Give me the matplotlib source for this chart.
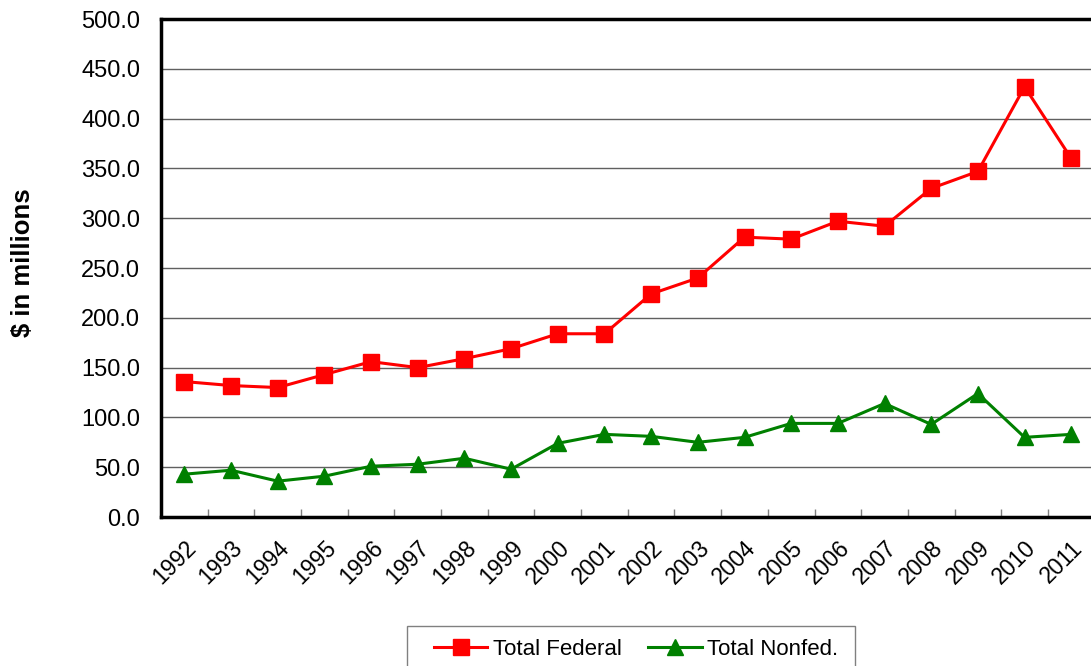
import matplotlib.pyplot as plt
import matplotlib.transforms as mtransforms
from matplotlib.patches import Rectangle

plt.rcParams['font.family'] = ['Liberation Sans', 'DejaVu Sans']

# Datos
years = [str(y) for y in range(1992, 2012)]
total_federal = [136, 132, 130, 143, 156, 150, 159, 169, 184, 184,
                 224, 240, 281, 279, 297, 292, 330, 347, 432, 360]
total_nonfed = [43, 47, 36, 41, 51, 53, 59, 48, 74, 83,
                81, 75, 80, 94, 94, 114, 93, 124, 80, 83]
y_ticks = [0, 50, 100, 150, 200, 250, 300, 350, 400, 450, 500]

fig = plt.figure(figsize=(10.91, 6.66), dpi=100)
ax = fig.add_axes([0.1476, 0.2237, 0.8557, 0.7477])

x = list(range(len(years)))
ax.plot(x, total_federal, color='#FF0000', lw=2.2, marker='s', markersize=11,
        label='Total Federal', zorder=3)
ax.plot(x, total_nonfed, color='#008000', lw=2.2, marker='^', markersize=12,
        label='Total Nonfed.', zorder=3)

ax.set_xlim(-0.5, len(years) - 0.5)
ax.set_ylim(0, 500)
ax.set_yticks(y_ticks)
ax.set_yticklabels([f'{v:.1f}' for v in y_ticks], fontsize=17)
ax.yaxis.grid(True, color='#606060', lw=1)
ax.set_axisbelow(True)

ax.set_xticks(x)
ax.set_xticklabels(years, fontsize=16.5, rotation=45, ha='right',
                   rotation_mode='anchor')
# mover un poco las etiquetas a la izquierda
offset = mtransforms.ScaledTranslation(-6 / 100, 0, fig.dpi_scale_trans)
for lbl in ax.get_xticklabels():
    lbl.set_transform(lbl.get_transform() + offset)
ax.set_xticks([i + 0.5 for i in x[:-1]], minor=True)
ax.tick_params(axis='x', which='major', length=0, pad=14)
ax.tick_params(axis='x', which='minor', direction='in', length=6,
               color='#808080', width=1)
ax.tick_params(axis='y', which='major', length=0, pad=15)

for side in ['left', 'bottom', 'top']:
    ax.spines[side].set_linewidth(2.5)
    ax.spines[side].set_color('black')
ax.spines['right'].set_visible(False)

ax.set_ylabel('$ in millions'.replace('$', r'\$'), fontsize=18.5,
              fontweight='bold')
ax.yaxis.set_label_coords(-0.135, 0.51)

# leyenda sin marco + marco dibujado aparte
fig.legend(loc='center left', bbox_to_anchor=(0.3978, 0.0255), ncol=2,
           fontsize=16, frameon=False, handlelength=2.4, borderpad=0,
           borderaxespad=0, columnspacing=1.2, handletextpad=0.25)
fig.patches.append(Rectangle((0.373, -0.05), 0.4106, 0.11,
                             transform=fig.transFigure, fill=False,
                             edgecolor='#808080', lw=1))

fig.savefig('out.png', dpi=100)
